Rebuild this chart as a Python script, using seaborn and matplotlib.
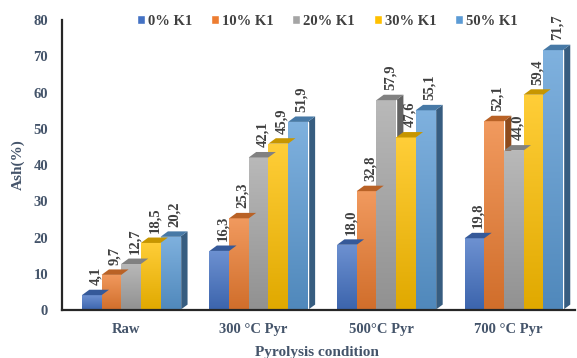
import numpy as np
import pandas as pd
import matplotlib
matplotlib.use("Agg")
import matplotlib.pyplot as plt
import matplotlib.transforms as mtransforms
from matplotlib.patches import Polygon
from matplotlib.colors import to_rgb
import seaborn as sns

conditions = ["Raw", "300 °C Pyr", "500°C Pyr", "700 °C Pyr"]
series = ["0% K1", "10% K1", "20% K1", "30% K1", "50% K1"]
k0 = [4.1, 16.3, 18.0, 19.8]
k10 = [9.7, 25.3, 32.8, 52.1]
k20 = [12.7, 42.1, 57.9, 44.0]
k30 = [18.5, 45.9, 47.6, 59.4]
k50 = [20.2, 51.9, 55.1, 71.7]
colors = ["#4472C4", "#ED7D31", "#A5A5A5", "#FFC000", "#5B9BD5"]

values = [k0, k10, k20, k30, k50]
df = pd.DataFrame(
    [(c, s, v[i]) for s, v in zip(series, values) for i, c in enumerate(conditions)],
    columns=["condition", "series", "ash"],
)

sns.set_theme(style="white")
plt.rcParams["font.family"] = ["Liberation Serif", "DejaVu Serif"]
text_col = "#44546A"

fig = plt.figure(figsize=(5.77, 3.58), dpi=100)
ax = fig.add_axes([0.1075, 0.134, 0.889, 0.81])

sns.barplot(data=df, x="condition", y="ash", hue="series", order=conditions,
            hue_order=series, palette=colors, width=0.77, saturation=1,
            errorbar=None, ax=ax, legend=True, zorder=2)

def shade(c, f):
    r, g, b = to_rgb(c)
    return (r * f, g * f, b * f)

def tint(c, f):
    r, g, b = to_rgb(c)
    return (r + (1 - r) * f, g + (1 - g) * f, b + (1 - b) * f)

# pseudo-3D depth for each column
dx, dy = 0.058, 1.5
bars = [p for p in ax.patches if p.get_height() > 0]
for p in bars:
    x0, w, h = p.get_x(), p.get_width(), p.get_height()
    col = p.get_facecolor()[:3]
    # vertical gradient on the front face
    grad = np.linspace(0, 1, 64).reshape(-1, 1)
    top_c = np.array(tint(col, 0.22))
    bot_c = np.array(shade(col, 0.88))
    img = (bot_c[None, None, :] * (1 - grad[..., None]) + top_c[None, None, :] * grad[..., None])
    im = ax.imshow(img, extent=[x0, x0 + w, 0, h], origin="lower", aspect="auto",
                   zorder=2.1, interpolation="bilinear")
    im.set_clip_path(p)
    side = Polygon([(x0 + w, 0), (x0 + w + dx, dy), (x0 + w + dx, h + dy), (x0 + w, h)],
                   closed=True, facecolor=shade(col, 0.6), edgecolor="none", zorder=1.9)
    top = Polygon([(x0, h), (x0 + dx, h + dy), (x0 + w + dx, h + dy), (x0 + w, h)],
                  closed=True, facecolor=shade(col, 0.78), edgecolor="none", zorder=2.2)
    ax.add_patch(side)
    ax.add_patch(top)
    ax.text(x0 + w / 2 + dx / 2, h + dy + 1.3, f"{h:.1f}".replace(".", ","),
            rotation=90, ha="center", va="bottom", fontsize=10.5, fontweight="bold",
            color="#404040", zorder=3)

ax.set_xlim(-0.541, 3.48)
ax.set_ylim(0, 80)
ax.set_yticks(range(0, 81, 10))
ax.tick_params(axis="both", length=0, labelsize=10.5, labelcolor=text_col)
ax.tick_params(axis="y", pad=10)
ax.tick_params(axis="x", pad=9)
shift = mtransforms.ScaledTranslation(-5 / 100, 0, fig.dpi_scale_trans)
for lbl in ax.get_xticklabels():
    lbl.set_fontweight("bold")
    lbl.set_transform(lbl.get_transform() + shift)
for lbl in ax.get_yticklabels():
    lbl.set_fontweight("bold")
ax.set_ylabel("Ash(%)", fontsize=11, fontweight="bold", color=text_col, labelpad=6)
ax.set_xlabel("Pyrolysis condition", fontsize=11, fontweight="bold", color=text_col, labelpad=5)
ax.xaxis.set_label_coords(0.497, -0.125)

for s in ["top", "right"]:
    ax.spines[s].set_visible(False)
for s in ["left", "bottom"]:
    ax.spines[s].set_color("#262626")
    ax.spines[s].set_linewidth(1.6)

ax.legend(loc="center", bbox_to_anchor=(0.517, 0.995), ncol=5, frameon=False,
          handlelength=0.55, handleheight=0.55, handletextpad=0.2, columnspacing=1.3,
          prop={"family": "Liberation Serif", "weight": "bold", "size": 10.5},
          labelcolor="#404040")

fig.savefig("out.png", dpi=100)
